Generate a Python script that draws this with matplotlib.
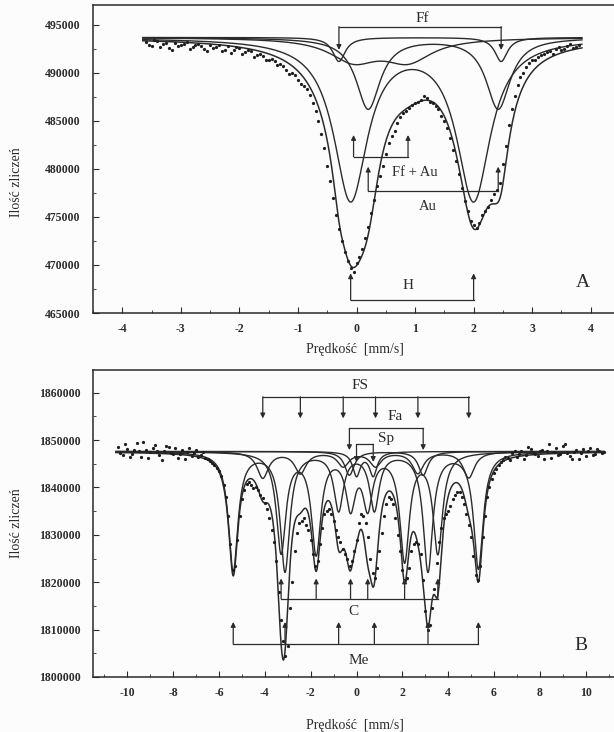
import numpy as np
import matplotlib
matplotlib.use('Agg')
import matplotlib.pyplot as plt
from matplotlib.ticker import MultipleLocator, FuncFormatter

plt.rcParams['font.family'] = ['Liberation Serif', 'DejaVu Serif']

INK = '#2b2b2b'

# ---------------- panel A: doublets ----------------
base_a = 493700
h_pos, h_depth, h_hw = [-0.1, 2.0], 16700, 0.35
au_pos, au_depth, au_hw = [0.2, 2.42], 7400, 0.25
ff_pos, ff_depth, ff_hw = [-0.3, 2.47], 2500, 0.13
ffau_pos, ffau_depth, ffau_hw = [-0.05, 0.88], 2300, 0.5

# measured counts, channels -3.6 ... 3.8 mm/s (step 0.1)
counts_a = [493200, 492800, 493300, 493000, 492600, 493100, 492900, 493200, 492700,
            493000, 492500, 492900, 492700, 492300, 492800, 492400, 492600, 492200,
            492300, 491900, 491800, 491400, 491200, 490900, 490300, 490000, 489300,
            488600, 487700, 486000, 483600, 480300, 477000, 473800, 471400, 469700,
            470200, 471700, 474000, 476800, 479300, 481600, 483400, 484800, 485800,
            486300, 486900, 487200, 487400, 486900, 486200, 485000, 483200, 480800,
            478000, 475600, 474200, 474400, 475600, 476800, 477800, 480500, 484600,
            487600, 489600, 490600, 491300, 491700, 492000, 492300, 492500, 492400,
            492800, 492600, 492900]
# channels in between, -3.55 ... 3.75 mm/s
counts_a_mid = [492900, 493400, 492700, 493100, 492400, 492800, 493000, 492500, 492900,
                492800, 492300, 492600, 492900, 492400, 492100, 492700, 492000, 492400,
                491700, 492000, 491300, 491500, 490800, 490700, 489900, 489800, 488900,
                488300, 486900, 485000, 482200, 478700, 475200, 472500, 470400, 469300,
                470800, 472800, 475400, 478200, 480300, 482700, 484000, 485400, 486000,
                486700, 487000, 487600, 487000, 486600, 485500, 484300, 482000, 479500,
                476700, 474600, 473900, 475200, 476000, 477400, 478500, 482400, 486200,
                488700, 490000, 491000, 491400, 491900, 492200, 492000, 492700, 492500,
                493000, 492700]

# ---------------- panel B: sextets and doublets ----------------
base_b = 1847600
me_pos = [-5.38, -3.12, -0.78, 0.78, 3.12, 5.32]
me_depth = [25000, 25000, 12000, 12000, 25000, 24500]
me_hw = 0.25
c_pos = [-3.29, -1.76, -0.26, 0.49, 2.1, 3.55]
c_depth = [21000, 21000, 11000, 11000, 22500, 21000]
c_hw = 0.25
fs_pos = [-4.09, -2.45, -0.58, 0.83, 2.68, 4.9]
fs_depth = [5500, 4500, 3000, 3000, 4500, 5500]
fs_hw = 0.3
fa_pos, fa_depth, fa_hw = [-0.31, 2.91], [5000, 5000], 0.25
sp_pos, sp_depth, sp_hw = [0.0, 0.73], [5000, 5000], 0.2

# measured counts, channels -10.4 ... 10.8 mm/s (step 0.2)
counts_b = [1848500, 1846800, 1848200, 1847000, 1849300, 1846500, 1848000, 1847400,
            1849000, 1846900, 1847800, 1848600, 1847100, 1846300, 1848000, 1847500,
            1846600, 1847900, 1846800, 1846200, 1845500, 1844800, 1843500, 1840500,
            1834000, 1822500, 1829000, 1837500, 1840800, 1840500, 1840000, 1838500,
            1836800, 1833500, 1828500, 1818000, 1807500, 1806500, 1820000, 1830500,
            1833000, 1832000, 1829000, 1823500, 1828000, 1834500, 1835500, 1833000,
            1829500, 1827000, 1825000, 1824500, 1829000, 1834500, 1832500, 1825000,
            1821000, 1826500, 1834000, 1838000, 1836500, 1830000, 1822500, 1821000,
            1826500, 1828500, 1826000, 1814000, 1811000, 1818500, 1828500, 1833500,
            1835000, 1837500, 1839000, 1838000, 1834500, 1829500, 1821500, 1823500,
            1834000, 1840000, 1843000, 1844800, 1845800, 1846200, 1847300, 1846500,
            1847800, 1846800, 1848200, 1847000, 1847600, 1846000, 1849100, 1847400,
            1846900, 1848700, 1847200, 1846100, 1848000, 1847300, 1846600, 1848300,
            1847100, 1847800, 1847400]
# channels in between, -10.3 ... 10.7 mm/s
counts_b_mid = [1847300, 1849100, 1846400, 1848000, 1847700, 1849500, 1846200, 1848300,
                1847600, 1845900, 1848800, 1847300, 1848400, 1847000, 1846100, 1848300,
                1847200, 1846500, 1847400, 1846000, 1845200, 1844200, 1842400, 1838000,
                1828000, 1823500, 1834000, 1839500, 1841200, 1839800, 1839500, 1837800,
                1835500, 1831000, 1824500, 1812000, 1804500, 1814500, 1826500, 1832500,
                1833500, 1831000, 1826000, 1824500, 1831500, 1835000, 1834500, 1831000,
                1828500, 1826000, 1823500, 1826500, 1832500, 1834000, 1829500, 1822000,
                1823000, 1830500, 1836500, 1837500, 1833500, 1826500, 1820500, 1823000,
                1828000, 1828000, 1820500, 1810000, 1814500, 1824000, 1831500, 1834500,
                1836000, 1838500, 1839000, 1836500, 1832000, 1825500, 1820500, 1829500,
                1838000, 1841800, 1844000, 1845300, 1846500, 1845700, 1847800, 1847000,
                1846100, 1848500, 1847300, 1846600, 1848000, 1847700, 1846300, 1848400,
                1847000, 1849200, 1846700, 1847500, 1846000, 1848200, 1847600, 1846900,
                1848100, 1847300]

vel_a = np.linspace(-3.6, 3.8, len(counts_a))
vel_a_mid = np.linspace(-3.55, 3.75, len(counts_a_mid))
vel_b = np.linspace(-10.4, 10.8, len(counts_b))
vel_b_mid = np.linspace(-10.3, 10.7, len(counts_b_mid))


def absorption(v, pos, depth, hw):
    if np.isscalar(depth):
        depth = [depth] * len(pos)
    out = np.zeros_like(v)
    for p, d in zip(pos, depth):
        out += d / (1.0 + ((v - p) / hw) ** 2)
    return out


def bracket(ax, xs, y_line, y_tip, lw=0.9):
    ax.plot([xs[0], xs[-1]], [y_line, y_line], color=INK, lw=lw)
    for x in xs:
        ax.annotate('', xy=(x, y_tip), xytext=(x, y_line),
                    arrowprops=dict(arrowstyle='-|>', color=INK, lw=lw,
                                    mutation_scale=7, shrinkA=0, shrinkB=0))


def style_axes(ax):
    for s in ax.spines.values():
        s.set_color(INK)
        s.set_linewidth(1.1)
    ax.tick_params(which='both', direction='in', colors=INK, labelsize=8.5)
    ax.tick_params(which='major', length=4)
    ax.tick_params(which='minor', length=2)
    ax.tick_params(axis='y', pad=9)
    ax.tick_params(axis='x', pad=7)
    ax.yaxis.set_major_formatter(FuncFormatter(lambda v, p: '%d' % v))
    ax.xaxis.set_major_formatter(FuncFormatter(lambda v, p: '%d' % round(v)))
    for lab in ax.get_xticklabels() + ax.get_yticklabels():
        lab.set_fontweight('bold')


def draw_data(ax, vs, cs):
    for v, c in zip(vs, cs):
        ax.plot(v, c, ls='none', marker='.', ms=2.6, color='#1e1e1e')


fig = plt.figure(figsize=(6.14, 7.32), dpi=100)
fig.patch.set_facecolor('#fcfcfc')

# ---- panel A ----
ax1 = fig.add_axes([93 / 614, 1 - 313 / 732, 527 / 614, 308 / 732])
ax1.set_facecolor('#fcfcfc')
va = np.linspace(-3.65, 3.85, 900)
comp_a = [absorption(va, h_pos, h_depth, h_hw),
          absorption(va, au_pos, au_depth, au_hw),
          absorption(va, ff_pos, ff_depth, ff_hw),
          absorption(va, ffau_pos, ffau_depth, ffau_hw)]
for c in comp_a:
    ax1.plot(va, base_a - c, color=INK, lw=1.0)
ax1.plot(va, base_a - sum(comp_a), color=INK, lw=1.1)
draw_data(ax1, [vel_a, vel_a_mid], [counts_a, counts_a_mid])

bracket(ax1, ff_pos, 494820, 492400)
ax1.text(1.13, 495700, 'Ff', ha='center', va='center', fontsize=11, color=INK)
bracket(ax1, ffau_pos, 481280, 483540)
ax1.text(0.99, 479610, 'Ff + Au', ha='center', va='center', fontsize=10.5, color=INK)
bracket(ax1, au_pos, 477740, 480240)
ax1.text(1.22, 476070, 'Au', ha='center', va='center', fontsize=10.5, color=INK)
bracket(ax1, h_pos, 466350, 469130)
ax1.text(0.88, 467900, 'H', ha='center', va='center', fontsize=11, color=INK)
ax1.text(3.86, 468125, 'A', ha='center', va='center', fontsize=14, color=INK)

ax1.set_xlim(-4.5, 4.5)
ax1.set_ylim(465000, 497080)
ax1.xaxis.set_major_locator(MultipleLocator(1))
ax1.xaxis.set_minor_locator(MultipleLocator(0.5))
ax1.yaxis.set_major_locator(MultipleLocator(5000))
ax1.yaxis.set_minor_locator(MultipleLocator(2500))
style_axes(ax1)

# ---- panel B ----
ax2 = fig.add_axes([93 / 614, 1 - 677 / 732, 527 / 614, 307 / 732])
ax2.set_facecolor('#fcfcfc')
vb = np.linspace(-10.5, 10.8, 2000)
comp_b = [absorption(vb, me_pos, me_depth, me_hw),
          absorption(vb, c_pos, c_depth, c_hw),
          absorption(vb, fs_pos, fs_depth, fs_hw),
          absorption(vb, fa_pos, fa_depth, fa_hw),
          absorption(vb, sp_pos, sp_depth, sp_hw)]
for c in comp_b:
    ax2.plot(vb, base_b - c, color=INK, lw=1.0)
ax2.plot(vb, base_b - sum(comp_b), color=INK, lw=1.1)
draw_data(ax2, [vel_b, vel_b_mid], [counts_b, counts_b_mid])

bracket(ax2, fs_pos, 1859150, 1854590)
ax2.text(0.17, 1861630, 'FS', ha='center', va='center', fontsize=11, color=INK)
bracket(ax2, fa_pos, 1852470, 1847890)
ax2.text(1.7, 1854930, 'Fa', ha='center', va='center', fontsize=11, color=INK)
bracket(ax2, sp_pos, 1849100, 1845400)
ax2.text(1.27, 1850300, 'Sp', ha='center', va='center', fontsize=11, color=INK)
bracket(ax2, c_pos, 1816560, 1820790)
ax2.text(-0.12, 1813730, 'C', ha='center', va='center', fontsize=11, color=INK)
bracket(ax2, me_pos, 1807050, 1811620)
ax2.text(0.1, 1803530, 'Me', ha='center', va='center', fontsize=11, color=INK)
ax2.text(9.78, 1806650, 'B', ha='center', va='center', fontsize=14, color=INK)

ax2.set_xlim(-11.5, 11.5)
ax2.set_ylim(1800000, 1864800)
ax2.xaxis.set_major_locator(MultipleLocator(2))
ax2.xaxis.set_minor_locator(MultipleLocator(1))
ax2.yaxis.set_major_locator(MultipleLocator(10000))
ax2.yaxis.set_minor_locator(MultipleLocator(5000))
style_axes(ax2)

# axis titles
for yc, xl_y in [(182, 350), (523, 725)]:
    fig.text(17 / 614, 1 - yc / 732, 'Ilość zliczeń', rotation=90,
             ha='center', va='center', fontsize=10, color=INK)
    fig.text(355 / 614, 1 - xl_y / 732, 'Prędkość  [mm/s]',
             ha='center', va='center', fontsize=10, color=INK)

fig.savefig('out.png', dpi=100, facecolor=fig.get_facecolor())
